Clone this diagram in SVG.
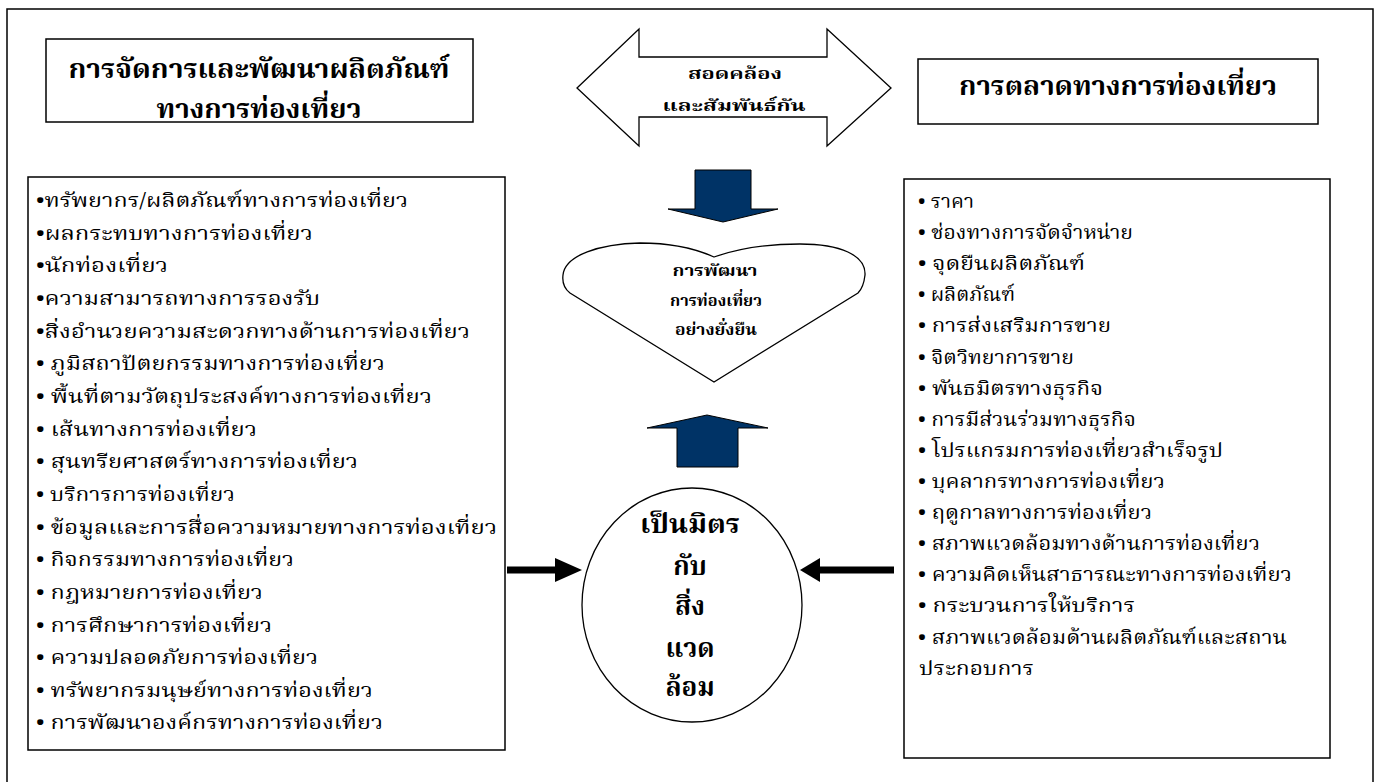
<svg xmlns="http://www.w3.org/2000/svg" width="1378" height="782" viewBox="0 0 1378 782">
<style>
.box{fill:#fff;stroke:#000;stroke-width:1.5}
.shape{fill:#fff;stroke:#000;stroke-width:1.3}
.blue{fill:#003366;stroke:#000;stroke-width:1}
.t{font-family:"Noto Serif Thai","Noto Sans Thai","Noto Sans",sans-serif;fill:#000}
.hd{font-size:26px;font-weight:bold;text-anchor:middle}
.sm{font-size:16px;font-weight:bold;text-anchor:middle}
.li{font-size:19px}
.ci{font-size:26px;font-weight:bold;text-anchor:middle}
</style>
<rect x="0" y="0" width="1378" height="782" fill="#fff"/>
<rect x="7" y="9" width="1366" height="800" fill="none" stroke="#000" stroke-width="1.5"/>

<g id="header-left">
<rect class="box" x="46" y="39" width="427" height="83"/>
<text class="t hd" x="259" y="78" textLength="381" lengthAdjust="spacingAndGlyphs">การจัดการและพัฒนาผลิตภัณฑ์</text>
<text class="t hd" x="259" y="118" textLength="205" lengthAdjust="spacingAndGlyphs">ทางการท่องเที่ยว</text>
</g>

<g id="relation">
<polygon class="shape" points="577,88 639,29 639,57 827,57 827,29 891,88 827,146 827,117 639,117 639,146"/>
<text class="t sm" x="735" y="79" textLength="94" lengthAdjust="spacingAndGlyphs">สอดคล้อง</text>
<text class="t sm" x="734" y="111" textLength="143" lengthAdjust="spacingAndGlyphs">และสัมพันธ์กัน</text>
</g>

<g id="header-right">
<rect class="box" x="918" y="59" width="400" height="65"/>
<text class="t hd" x="1118" y="95" textLength="318" lengthAdjust="spacingAndGlyphs">การตลาดทางการท่องเที่ยว</text>
</g>

<g id="heart">
<path class="shape" d="M714,257 C740,248 770,244 800,244 C840,244 866,255 865,275 C864,284 862,289 858,293 L714,382 L570,293 C565,289 562,283 563,275 C565,255 600,244 640,243 C670,243 694,248 714,257 Z"/>
<text class="t sm" x="715" y="276" textLength="85" lengthAdjust="spacingAndGlyphs">การพัฒนา</text>
<text class="t sm" x="716" y="306" textLength="92" lengthAdjust="spacingAndGlyphs">การท่องเที่ยว</text>
<text class="t sm" x="716" y="335" textLength="82" lengthAdjust="spacingAndGlyphs">อย่างยั่งยืน</text>
</g>

<g id="circle">
<ellipse class="shape" cx="692" cy="605" rx="110" ry="117"/>
<text class="t ci" x="690" y="533" textLength="100" lengthAdjust="spacingAndGlyphs">เป็นมิตร</text>
<text class="t ci" x="690" y="575">กับ</text>
<text class="t ci" x="690" y="615">สิ่ง</text>
<text class="t ci" x="690" y="657">แวด</text>
<text class="t ci" x="690" y="696">ล้อม</text>
</g>

<g id="list-left">
<rect class="box" x="28" y="177" width="477" height="573"/>
<g class="t li">
<text x="36" y="207" textLength="372" lengthAdjust="spacingAndGlyphs">•ทรัพยากร/ผลิตภัณฑ์ทางการท่องเที่ยว</text>
<text x="36" y="240" textLength="277" lengthAdjust="spacingAndGlyphs">•ผลกระทบทางการท่องเที่ยว</text>
<text x="36" y="272" textLength="132" lengthAdjust="spacingAndGlyphs">•นักท่องเที่ยว</text>
<text x="36" y="305" textLength="284" lengthAdjust="spacingAndGlyphs">•ความสามารถทางการรองรับ</text>
<text x="36" y="338" textLength="434" lengthAdjust="spacingAndGlyphs">•สิ่งอำนวยความสะดวกทางด้านการท่องเที่ยว</text>
<text x="36" y="370" textLength="349" lengthAdjust="spacingAndGlyphs">• ภูมิสถาปัตยกรรมทางการท่องเที่ยว</text>
<text x="36" y="403" textLength="396" lengthAdjust="spacingAndGlyphs">• พื้นที่ตามวัตถุประสงค์ทางการท่องเที่ยว</text>
<text x="36" y="436" textLength="221" lengthAdjust="spacingAndGlyphs">• เส้นทางการท่องเที่ยว</text>
<text x="36" y="468" textLength="322" lengthAdjust="spacingAndGlyphs">• สุนทรียศาสตร์ทางการท่องเที่ยว</text>
<text x="36" y="501" textLength="199" lengthAdjust="spacingAndGlyphs">• บริการการท่องเที่ยว</text>
<text x="36" y="534" textLength="461" lengthAdjust="spacingAndGlyphs">• ข้อมูลและการสื่อความหมายทางการท่องเที่ยว</text>
<text x="36" y="566" textLength="258" lengthAdjust="spacingAndGlyphs">• กิจกรรมทางการท่องเที่ยว</text>
<text x="36" y="599" textLength="227" lengthAdjust="spacingAndGlyphs">• กฎหมายการท่องเที่ยว</text>
<text x="36" y="632" textLength="236" lengthAdjust="spacingAndGlyphs">• การศึกษาการท่องเที่ยว</text>
<text x="36" y="664" textLength="282" lengthAdjust="spacingAndGlyphs">• ความปลอดภัยการท่องเที่ยว</text>
<text x="36" y="697" textLength="337" lengthAdjust="spacingAndGlyphs">• ทรัพยากรมนุษย์ทางการท่องเที่ยว</text>
<text x="36" y="729" textLength="347" lengthAdjust="spacingAndGlyphs">• การพัฒนาองค์กรทางการท่องเที่ยว</text>
</g>
</g>

<g id="list-right">
<rect class="box" x="904" y="179" width="426" height="579"/>
<g class="t li">
<text x="918" y="208" textLength="56" lengthAdjust="spacingAndGlyphs">• ราคา</text>
<text x="918" y="239" textLength="215" lengthAdjust="spacingAndGlyphs">• ช่องทางการจัดจำหน่าย</text>
<text x="918" y="270" textLength="167" lengthAdjust="spacingAndGlyphs">• จุดยืนผลิตภัณฑ์</text>
<text x="918" y="301" textLength="97" lengthAdjust="spacingAndGlyphs">• ผลิตภัณฑ์</text>
<text x="918" y="332" textLength="193" lengthAdjust="spacingAndGlyphs">• การส่งเสริมการขาย</text>
<text x="918" y="364" textLength="156" lengthAdjust="spacingAndGlyphs">• จิตวิทยาการขาย</text>
<text x="918" y="395" textLength="185" lengthAdjust="spacingAndGlyphs">• พันธมิตรทางธุรกิจ</text>
<text x="918" y="426" textLength="218" lengthAdjust="spacingAndGlyphs">• การมีส่วนร่วมทางธุรกิจ</text>
<text x="918" y="457" textLength="305" lengthAdjust="spacingAndGlyphs">• โปรแกรมการท่องเที่ยวสำเร็จรูป</text>
<text x="918" y="488" textLength="247" lengthAdjust="spacingAndGlyphs">• บุคลากรทางการท่องเที่ยว</text>
<text x="918" y="519" textLength="234" lengthAdjust="spacingAndGlyphs">• ฤดูกาลทางการท่องเที่ยว</text>
<text x="918" y="550" textLength="342" lengthAdjust="spacingAndGlyphs">• สภาพแวดล้อมทางด้านการท่องเที่ยว</text>
<text x="918" y="581" textLength="374" lengthAdjust="spacingAndGlyphs">• ความคิดเห็นสาธารณะทางการท่องเที่ยว</text>
<text x="918" y="612" textLength="217" lengthAdjust="spacingAndGlyphs">• กระบวนการให้บริการ</text>
<text x="918" y="644" textLength="369" lengthAdjust="spacingAndGlyphs">• สภาพแวดล้อมด้านผลิตภัณฑ์และสถาน</text>
<text x="919" y="675" textLength="115" lengthAdjust="spacingAndGlyphs">ประกอบการ</text>
</g>
</g>

<g id="connectors">
<polygon class="blue" points="695,170 751,170 751,209 778,209 723,222 668,209 695,209"/>
<polygon class="blue" points="707,415 768,428 738,428 738,467 677,467 677,428 647,428"/>
<rect x="507" y="566.5" width="50" height="7" fill="#000"/>
<polygon points="555,558 582,570 555,582" fill="#000"/>
<rect x="818" y="566.5" width="76" height="7" fill="#000"/>
<polygon points="820,558 800,570 820,582" fill="#000"/>
</g>
</svg>
